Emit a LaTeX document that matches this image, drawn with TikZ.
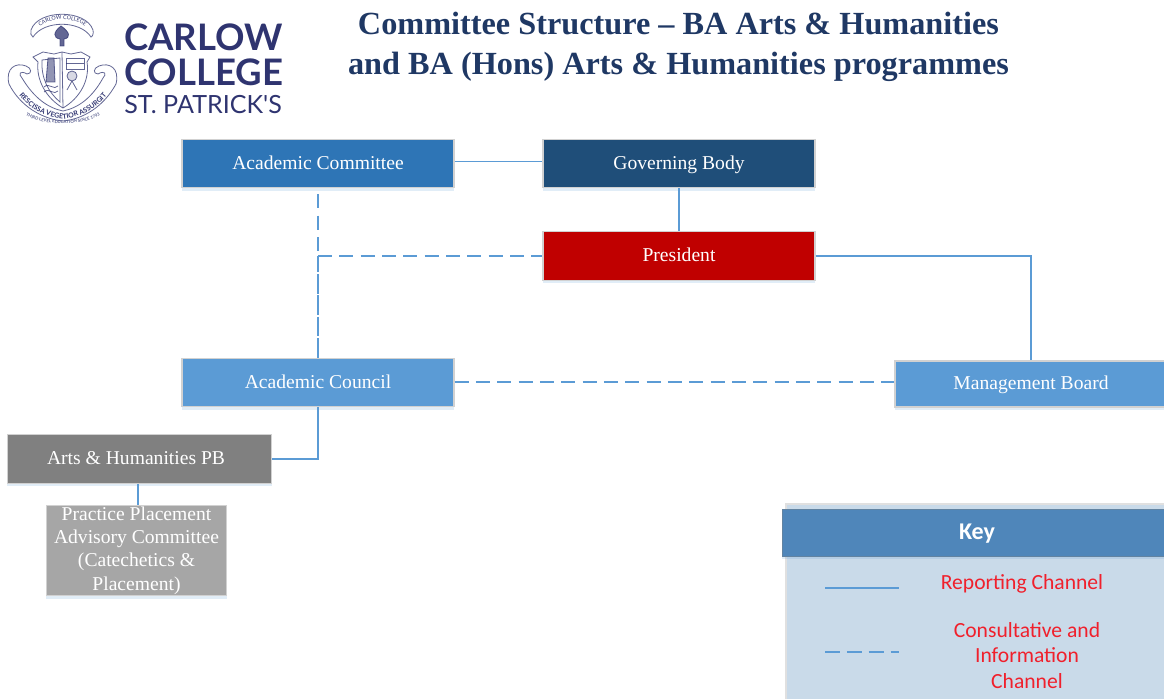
\documentclass[tikz,border=0pt]{standalone}
\usepackage{fontspec}
\setmainfont{Liberation Serif}
\newfontfamily\keyfont{Carlito}
\newfontfamily\logofont{Lato}
\usetikzlibrary{calc}
\usetikzlibrary{shadows}
\usetikzlibrary{decorations.text}
\definecolor{DarkNavy}{HTML}{1F3864}
\definecolor{LogoNavy}{HTML}{2F3470}
\definecolor{MidBlue}{HTML}{2E75B6}
\definecolor{DarkBlue}{HTML}{1F4E79}
\definecolor{LightBlue}{HTML}{5B9BD5}
\definecolor{DarkRed}{HTML}{C00000}
\definecolor{KeyHead}{HTML}{4F86BA}
\definecolor{KeyBody}{HTML}{C9DAE9}
\definecolor{KeyRed}{HTML}{F0202C}
\tikzset{
  box/.style={draw=black!18,line width=0.8pt,text=white,align=center,inner sep=0pt,
    font=\fontsize{14.7pt}{17.4pt}\selectfont,minimum width=204pt,minimum height=36.5pt,
    drop shadow={shadow xshift=0pt,shadow yshift=-2pt,opacity=0.18,fill=LightBlue}},
  oneline/.style={text height=11.5pt,text depth=3.1pt},
  report/.style={LightBlue,line width=1.2pt},
  consult/.style={LightBlue,line width=1.2pt,dash pattern=on 10.5pt off 5.5pt},
  crest/.style={LogoNavy,line width=0.6pt,opacity=0.75},
  title/.style={DarkNavy,font=\fontsize{24.2pt}{29.5pt}\selectfont\bfseries,align=center},
  keytext/.style={KeyRed,font=\keyfont\fontsize{16.2pt}{18.9pt}\selectfont,align=center}
}
\begin{document}
\begin{tikzpicture}[x=0.75pt,y=-0.75pt]
  \clip (0,0) rectangle (1164,699);

  \node [title] (Title) at (678.5,47) {Committee Structure -- BA Arts \& Humanities\\and BA (Hons) Arts \& Humanities programmes};

  % logo
  \node [LogoNavy,anchor=west,inner sep=0pt,font=\logofont\bfseries\fontsize{27.4pt}{27pt}\selectfont] (LogoOne) at (124,37) {CARLOW};
  \node [LogoNavy,anchor=west,inner sep=0pt,font=\logofont\bfseries\fontsize{27.4pt}{27pt}\selectfont] (LogoTwo) at (124,72) {COLLEGE};
  \node [LogoNavy,anchor=west,inner sep=0pt,font=\logofont\fontsize{18.8pt}{18.5pt}\selectfont] (LogoThree) at (124,105) {ST. PATRICK'S};

  \draw [crest] (31,30) .. controls (38,9) and (86,9) .. (93,30)
    .. controls (94,34) and (92,37) .. (91,37)
    .. controls (80,20) and (44,20) .. (33,37)
    .. controls (31,36) and (30,33) .. (31,30) -- cycle;
  \draw [crest,fill=LogoNavy] (61,26) .. controls (53,32) and (53,38) .. (60,39)
    -- (60,46) -- (64,46) -- (64,39) .. controls (71,38) and (70,32) .. (61,26) -- cycle;
  \draw [crest] (33,57) -- (43,52) -- (54,54) -- (62,52) -- (71,54) -- (81,52) -- (90,57)
    -- (87,62) .. controls (90,80) and (80,98) .. (63,108)
    .. controls (46,98) and (36,80) .. (38,62) -- cycle;
  \draw [crest] (62,52) -- (63,108);
  \draw [crest] (42,60) .. controls (41,78) and (48,92) .. (60,102) -- (60,58) -- cycle;
  \draw [crest,fill=LogoNavy!70] (48,58) -- (54,58) -- (55,82) -- (46,82) -- cycle;
  \draw [crest] (66,58) rectangle (84,69);
  \draw [crest] (66,63) -- (84,63);
  \draw [crest,fill=LogoNavy!25] (72,76) circle [radius=5];
  \draw [crest] (72,81) -- (67,90);
  \draw [crest] (72,81) -- (77,90);
  \draw [crest] (44,87) .. controls (49,82) and (54,91) .. (58,86);
  \draw [crest] (44,92) .. controls (49,87) and (54,96) .. (58,91);
  % side scrolls and lower ribbon
  \draw [crest] (9,84) .. controls (5,68) and (16,62) .. (26,66)
    .. controls (32,68) and (32,74) .. (27,74)
    .. controls (20,70) and (18,74) .. (22,78)
    .. controls (34,98) and (48,108) .. (63,111)
    .. controls (78,108) and (92,98) .. (103,78)
    .. controls (107,74) and (105,70) .. (98,74)
    .. controls (93,74) and (93,68) .. (99,66)
    .. controls (109,62) and (120,68) .. (116,84)
    .. controls (104,106) and (84,119) .. (63,121)
    .. controls (42,119) and (20,106) .. (9,84) -- cycle;

  \path [postaction={decorate,decoration={text along path,text align=center,
      text={|\logofont\fontsize{4pt}{4pt}\selectfont\color{LogoNavy}|CARLOW COLLEGE}}}]
    (37,30) .. controls (45,16) and (80,16) .. (88,30);
  \path [postaction={decorate,decoration={text along path,text align=center,
      text={|\logofont\bfseries\fontsize{5.2pt}{5pt}\selectfont\color{LogoNavy}|RESCISSA VEGETIOR ASSURGIT}}}]
    (11,84) .. controls (24,106) and (42,117) .. (63,119)
    .. controls (84,117) and (102,106) .. (115,84);
  \path [postaction={decorate,decoration={text along path,text align=center,
      text={|\logofont\bfseries\fontsize{3.2pt}{3pt}\selectfont\color{LogoNavy!80}|THIRD LEVEL EDUCATION SINCE 1793}}}]
    (22,113) .. controls (40,127) and (86,127) .. (104,113);

  % committees
  \node [box,oneline,fill=MidBlue] (AcadCommittee) at (318,163.5) {Academic Committee};
  \node [box,oneline,fill=DarkBlue] (GovBody) at (679,163.5) {Governing Body};
  \node [box,oneline,fill=DarkRed] (President) at (679,256) {President};
  \node [box,oneline,fill=LightBlue] (AcadCouncil) at (318,382.5) {Academic Council};
  \node [box,oneline,fill=LightBlue,minimum height=34.5pt] (MgmtBoard) at (1031,384) {Management Board};
  \node [box,oneline,fill=black!50,minimum width=198.5pt,minimum height=37pt] (ArtsPB) at (139.5,459) {Arts \& Humanities PB\hspace{5.2pt}};
  \node [box,fill=black!35,minimum width=135.5pt,minimum height=68pt] (Practice) at (136.5,550.5)
    {Practice Placement\\Advisory Committee\\(Catechetics \&\\Placement)};

  \coordinate (Junction) at (AcadCommittee.south |- President.west);

  \draw [report] ([yshift=1.5pt]AcadCommittee.east) -- ([yshift=1.5pt]GovBody.west);
  \draw [report] (GovBody) -- (President);
  \draw [report] (President) -| (MgmtBoard);
  \draw [report] (AcadCouncil) |- (ArtsPB);
  \draw [report] ([xshift=1pt]ArtsPB.south -| Practice.north) -- ([xshift=1pt]Practice.north);

  \draw [consult,dash phase=11.5pt] (AcadCommittee) -- (AcadCouncil);
  \draw [consult,dash pattern=on 4.5pt off 11.5pt,dash phase=2.5pt] (Junction) -- (AcadCouncil);
  \draw [consult] (Junction) -- (President);
  \draw [consult] ([yshift=0.4pt]AcadCouncil.east) -- ([yshift=0.4pt]AcadCouncil.east -| MgmtBoard.west);

  % key
  \fill [KeyBody,draw=black!12,line width=0.8pt] (786,504) rectangle (1170,705);
  \node [fill=KeyHead,draw=DarkBlue!70,line width=0.6pt,anchor=north west,minimum width=300pt,minimum height=35pt,
    inner sep=0pt,drop shadow={shadow xshift=0pt,shadow yshift=-2pt,opacity=0.18,fill=LightBlue}] (KeyHeader) at (782,509) {};
  \node [white,font=\keyfont\bfseries\fontsize{18pt}{18pt}\selectfont] (KeyTitle) at (977,534) {Key};
  \node [keytext] (KeyReport) at (1022,584) {Reporting Channel};
  \node [keytext] (KeyConsult) at (1027,655.5) {Consultative and\\Information\\Channel};
  \coordinate (ReportA) at (825,588);
  \coordinate (ReportB) at (899,588);
  \coordinate (ConsultA) at (825,652);
  \coordinate (ConsultB) at (899,652);
  \draw [report] (ReportA) -- (ReportB);
  \draw [consult,dash pattern=on 11.5pt off 4.9pt] (ConsultA) -- (ConsultB);
\end{tikzpicture}
\end{document}
